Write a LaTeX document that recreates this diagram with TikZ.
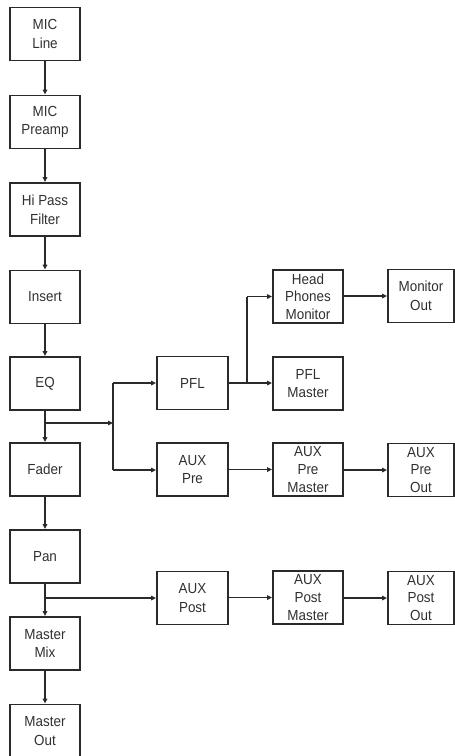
\documentclass[tikz,border=0pt]{standalone}
\usepackage{fontspec}
\setmainfont{Liberation Sans}[FakeStretch=0.92]
\usetikzlibrary{arrows.meta}
\definecolor{boxline}{HTML}{2A2A2A}
\definecolor{txt}{HTML}{303030}
\begin{document}
\begin{tikzpicture}[x=1pt,y=-1pt,
  blk/.style={draw=boxline,line width=1.8pt,minimum width=70pt,minimum height=53pt,
    inner sep=0pt,align=center,text=txt,font=\fontsize{14.6}{18.7}\selectfont},
  blkw/.style={blk,minimum width=66pt},
  three/.style={font=\fontsize{14.6}{17.6}\selectfont},
  conn/.style={draw=boxline,line width=1.4pt,-{Triangle[length=5pt,width=4.5pt]}},
  wire/.style={draw=boxline,line width=1.4pt}]
\useasboundingbox (0,0) rectangle (455,756);
% left column
\node[blk] (micline) at (45,34) {MIC\\Line};
\node[blk] (preamp) at (45,122) {MIC\\Preamp};
\node[blk] (hipass) at (45,209.5) {Hi Pass\\Filter};
\node[blk] (insert) at (45,297) {Insert};
\node[blk] (eq) at (45,383.5) {EQ};
\node[blk] (fader) at (45,469.5) {Fader};
\node[blk] (pan) at (45,556.5) {Pan};
\node[blk] (mmix) at (45,643.5) {Master\\Mix};
\node[blk] (mout) at (45,731) {Master\\Out};
% column 2
\node[blk,minimum width=71pt] (pfl) at (192.5,383) {PFL};
\node[blk,minimum width=71pt] (auxpre) at (192.5,469.5) {AUX\\Pre};
\node[blk,minimum width=71pt] (auxpost) at (192.5,598) {AUX\\Post};
% column 3
\node[blk,three] (hpm) at (308,296.5) {Head\\Phones\\Monitor};
\node[blk] (pflm) at (308,383.5) {PFL\\Master};
\node[blk,three] (auxprem) at (308,469.5) {AUX\\Pre\\Master};
\node[blk,three] (auxpostm) at (308,597.5) {AUX\\Post\\Master};
% column 4
\node[blkw] (monout) at (421,296) {Monitor\\Out};
\node[blkw,three] (auxpreout) at (421,470) {AUX\\Pre\\Out};
\node[blkw,three] (auxpostout) at (421,598) {AUX\\Post\\Out};
% main chain
\draw[conn] (micline) -- (preamp);
\draw[conn] (preamp) -- (hipass);
\draw[conn] (hipass) -- (insert);
\draw[conn] (insert) -- (eq);
\draw[conn] (eq) -- (fader);
\draw[conn] (fader) -- (pan);
\draw[conn] (pan) -- (mmix);
\draw[conn] (mmix) -- (mout);
% EQ branch
\coordinate (eqb) at (45,423);
\coordinate (bus) at (113,423);
\coordinate (bustop) at (113,383);
\coordinate (busbot) at (113,470);
\draw[conn] (eqb) -- (bus);
\draw[wire] (bustop) -- (busbot);
\draw[conn] (bustop) -- (pfl.west|-bustop);
\draw[conn] (busbot) -- (auxpre.west|-busbot);
% PFL branch
\coordinate (pflb) at (247,383);
\coordinate (pflbt) at (247,296.5);
\draw[wire] (pfl.east|-pflb) -- (pflb);
\draw[conn] (pflb) -- (pflm.west|-pflb);
\draw[wire] (pflb) -- (pflbt);
\draw[conn] (pflbt) -- (hpm.west|-pflbt);
\draw[conn] (hpm.east|-monout) -- (monout.west);
% AUX pre
\draw[conn] (auxpre.east|-auxprem) -- (auxprem.west);
\draw[conn] (auxprem.east|-auxpreout) -- (auxpreout.west);
% Pan branch
\coordinate (panb) at (45,598);
\draw[conn] (panb) -- (auxpost.west|-panb);
\draw[conn] (auxpost.east|-auxpostm) -- (auxpostm.west);
\draw[conn] (auxpostm.east|-auxpostout) -- (auxpostout.west);
\end{tikzpicture}
\end{document}
